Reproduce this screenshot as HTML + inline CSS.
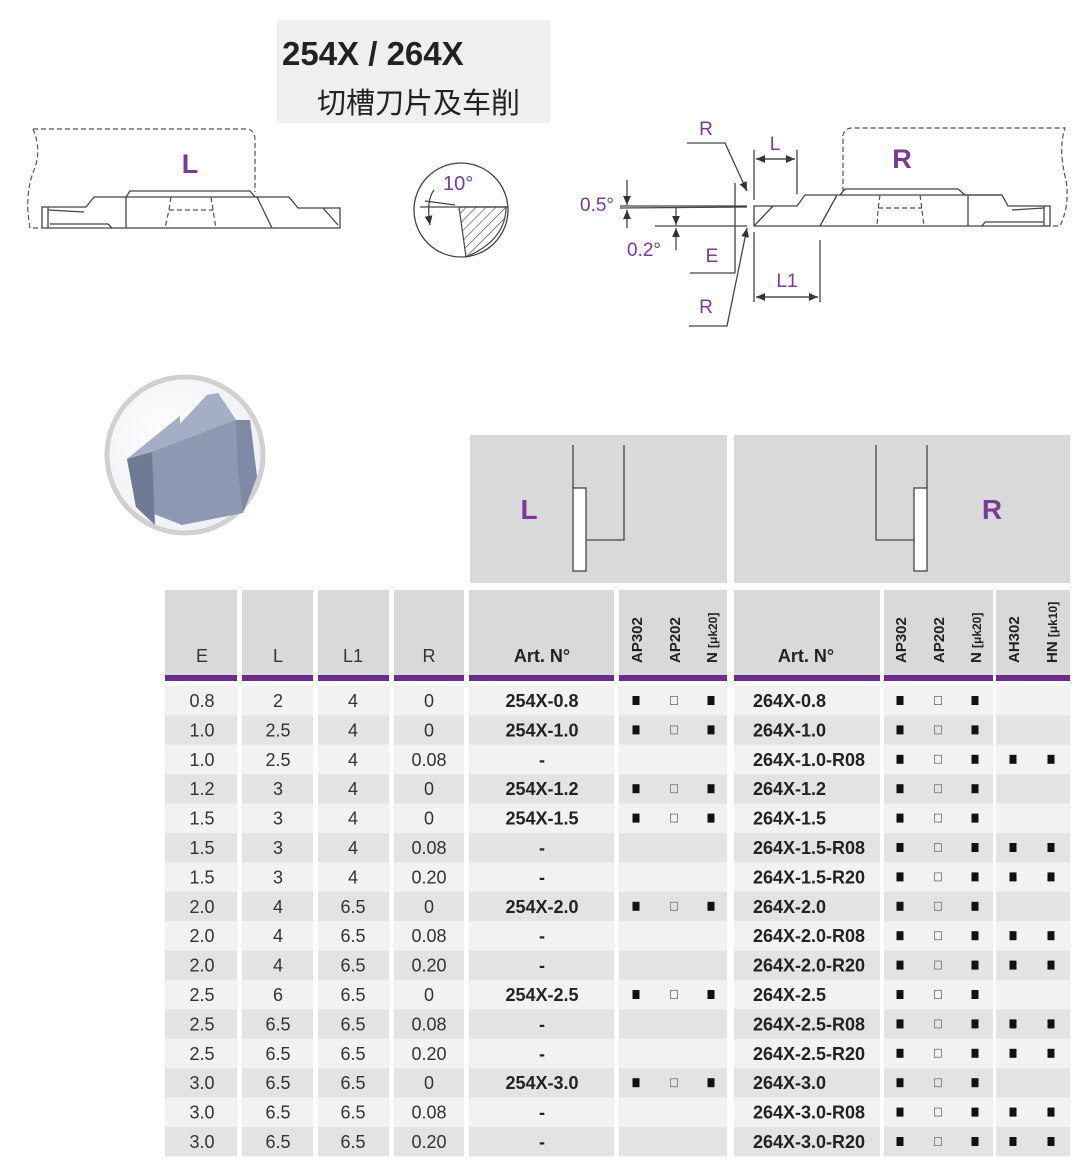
<!DOCTYPE html>
<html><head><meta charset="utf-8"><style>
html,body{margin:0;padding:0;background:#fff;}
svg{display:block;}
.n{font-family:"Liberation Sans Narrow","Liberation Sans",sans-serif;font-size:18px;fill:#333;text-anchor:middle;}
.b{font-family:"Liberation Sans Narrow","Liberation Sans",sans-serif;font-size:18px;font-weight:bold;fill:#222;}
.v{font-family:"Liberation Sans",sans-serif;font-size:15px;font-weight:bold;fill:#222;}
.p{font-family:"Liberation Sans",sans-serif;fill:#7a3a96;}
.ln{stroke:#444;stroke-width:1.3;fill:none;}
.ds{stroke:#555;stroke-width:1.2;fill:none;stroke-dasharray:5 3;}
</style></head><body>
<svg width="1091" height="1175" viewBox="0 0 1091 1175" xmlns="http://www.w3.org/2000/svg">
<defs>
<g id="f"><rect x="-3.5" y="10" width="7" height="9" fill="#111"/></g>
<g id="e"><rect x="-3.5" y="10.5" width="7" height="8" fill="none" stroke="#888" stroke-width="1"/></g>
<marker id="ar" markerWidth="8" markerHeight="8" refX="7" refY="4" orient="auto"><path d="M0,1 L7,4 L0,7z" fill="#333"/></marker>
<pattern id="h" width="7" height="7" patternUnits="userSpaceOnUse" patternTransform="rotate(45)"><line x1="0" y1="0" x2="0" y2="7" stroke="#444" stroke-width="1.2"/></pattern>
<radialGradient id="cg" cx="0.4" cy="0.4" r="0.7"><stop offset="0" stop-color="#fff"/><stop offset="1" stop-color="#eceef2"/></radialGradient>
</defs>

<!-- title -->
<rect x="277" y="20" width="273" height="103" fill="#efefef"/>
<text x="282" y="65" style="font-family:'Liberation Sans',sans-serif;font-size:33px;font-weight:bold;fill:#222">254X / 264X</text>
<text x="317" y="113" style="font-family:'Liberation Sans','Noto Sans CJK SC',sans-serif;font-size:29px;fill:#222">切槽刀片及车削</text>

<!-- L drawing -->
<path class="ds" d="M33,129 L247,129 Q255,130 255,140 L255,192"/>
<path class="ds" d="M33,129 Q42,150 34,170 Q24,195 30,228 L42,228"/>
<text x="190" y="173" class="p" style="font-size:27px;font-weight:bold;text-anchor:middle">L</text>
<path class="ln" d="M42,228 L340,228 L340,208 L298,208 L289,197 L259,197 L255,197 L250,191 L130,191 L126,197 L94,197 L86,207 L42,207 Z"/>
<line class="ln" x1="48" y1="207" x2="48" y2="228"/>
<line class="ln" x1="126" y1="197" x2="126" y2="228"/>
<line class="ln" x1="126" y1="197" x2="259" y2="197"/>
<line class="ln" x1="257" y1="197" x2="272" y2="228"/>
<line class="ln" x1="323" y1="208" x2="338" y2="225"/>
<path class="ln" d="M48,210 L84,212 M50,224 L108,224 L112,228"/>
<path class="ds" d="M171,197 L169,210 L165,228 M211,197 L213,210 L216,228 M169,210 L213,210"/>

<!-- circle detail -->
<circle cx="461" cy="210" r="47" fill="#fff" stroke="#444" stroke-width="1.3"/>
<path d="M459,207 L506,207 Q506,240 466,257 Z" fill="url(#h)" stroke="#444" stroke-width="1.2"/>
<line class="ln" x1="420" y1="207" x2="508" y2="207"/>
<line class="ln" x1="425" y1="201" x2="455" y2="205"/>
<path class="ln" d="M434,190 Q426,200 430,225" marker-end="url(#ar)"/>
<text x="443" y="190" class="p" style="font-size:20px">10°</text>

<!-- R drawing -->
<text x="706" y="135" class="p" style="font-size:19px;text-anchor:middle">R</text>
<text x="706" y="313" class="p" style="font-size:19px;text-anchor:middle">R</text>
<path class="ln" d="M687,143 L725,143 L747,191" marker-end="url(#ar)"/>
<path class="ln" d="M689,326 L727,326 L747,228" marker-end="url(#ar)"/>
<line class="ln" x1="754" y1="150" x2="754" y2="200"/>
<line class="ln" x1="797" y1="150" x2="797" y2="194"/>
<line class="ln" x1="756" y1="159" x2="795" y2="159" marker-end="url(#ar)"/>
<line class="ln" x1="795" y1="159" x2="756" y2="159" marker-end="url(#ar)"/>
<text x="775" y="150" class="p" style="font-size:19px;text-anchor:middle">L</text>
<line class="ln" x1="754" y1="232" x2="754" y2="302"/>
<line class="ln" x1="820" y1="240" x2="820" y2="302"/>
<line class="ln" x1="756" y1="297" x2="818" y2="297" marker-end="url(#ar)"/>
<line class="ln" x1="818" y1="297" x2="756" y2="297" marker-end="url(#ar)"/>
<text x="787" y="287" class="p" style="font-size:19px;text-anchor:middle">L1</text>
<line class="ln" x1="620" y1="206" x2="747" y2="206"/>
<line class="ln" x1="620" y1="208" x2="747" y2="207"/>
<line class="ln" x1="655" y1="226" x2="747" y2="226"/>
<line class="ln" x1="627" y1="180" x2="627" y2="205" marker-end="url(#ar)"/>
<line class="ln" x1="627" y1="228" x2="627" y2="210" marker-end="url(#ar)"/>
<text x="580" y="211" class="p" style="font-size:19px">0.5°</text>
<line class="ln" x1="676" y1="208" x2="676" y2="225" marker-end="url(#ar)"/>
<line class="ln" x1="676" y1="250" x2="676" y2="228" marker-end="url(#ar)"/>
<text x="627" y="256" class="p" style="font-size:19px">0.2°</text>
<line class="ln" x1="735" y1="183" x2="735" y2="273"/>
<line class="ln" x1="690" y1="273" x2="735" y2="273"/>
<text x="712" y="262" class="p" style="font-size:19px;text-anchor:middle">E</text>
<path class="ln" d="M754,206 L797,206 L805,195 L840,195 L845,189 L958,189 L965,195 L1002,195 L1008,206 L1050,206 L1050,226 L754,226 Z"/>
<line class="ln" x1="754" y1="226" x2="773" y2="206"/>
<line class="ln" x1="837" y1="195" x2="820" y2="226"/>
<line class="ln" x1="840" y1="195" x2="1002" y2="195"/>
<line class="ln" x1="968" y1="195" x2="968" y2="226"/>
<line class="ln" x1="1044" y1="206" x2="1044" y2="226"/>
<path class="ln" d="M1044,208 L1012,210 M1044,222 L985,222 L982,226"/>
<path class="ds" d="M843,192 L843,135 Q845,128 852,128 L1065,128 Q1058,150 1066,180 Q1070,205 1060,226 L1040,226"/>
<text x="902" y="168" class="p" style="font-size:27px;font-weight:bold;text-anchor:middle">R</text>
<path class="ds" d="M880,195 L878,210 L877,226 M920,195 L922,210 L924,226 M878,208 L922,208"/>

<!-- insert photo -->
<circle cx="185" cy="455" r="78" fill="url(#cg)" stroke="#d0d0d0" stroke-width="5"/>
<path d="M127,459 L180,416 L180,424 L207,395 L218,393 L236,420 L250,420 L257,477 L243,513 L182,525 L136,507 Z" fill="#8d99b2"/>
<path d="M127,459 L152,452 L155,525 L136,507 Z" fill="#6f7b94"/>
<path d="M127,459 L180,416 L180,424 L207,395 L218,393 L236,420 L152,452 Z" fill="#a4aec4"/>
<path d="M236,420 L250,420 L257,477 L243,513 L238,470 Z" fill="#7e8aa3"/>

<!-- upper header panels -->
<rect x="470" y="435" width="257" height="148" fill="#d9d9d9"/>
<rect x="734" y="435" width="336" height="148" fill="#d9d9d9"/>
<text x="529" y="519" class="p" style="font-size:28px;font-weight:bold;text-anchor:middle">L</text>
<text x="992" y="519" class="p" style="font-size:28px;font-weight:bold;text-anchor:middle">R</text>
<path class="ln" d="M573,445 L573,488 M624,445 L624,540 L587,540"/>
<rect x="573" y="488" width="13" height="83" fill="#fff" stroke="#444" stroke-width="1.3"/>
<path class="ln" d="M927,445 L927,488 M876,445 L876,540 L914,540"/>
<rect x="914" y="488" width="13" height="83" fill="#fff" stroke="#444" stroke-width="1.3"/>

<!-- table header -->
<g fill="#d9d9d9">
<rect x="165" y="590" width="72" height="86"/><rect x="242" y="590" width="71" height="86"/>
<rect x="318" y="590" width="71" height="86"/><rect x="394" y="590" width="70" height="86"/>
<rect x="469" y="590" width="145" height="86"/><rect x="619" y="590" width="108" height="86"/>
<rect x="734" y="590" width="146" height="86"/><rect x="884" y="590" width="109" height="86"/>
<rect x="996" y="590" width="74" height="86"/>
</g>
<g fill="#6b2d8c">
<rect x="165" y="675" width="72" height="6"/><rect x="242" y="675" width="71" height="6"/>
<rect x="318" y="675" width="71" height="6"/><rect x="394" y="675" width="70" height="6"/>
<rect x="469" y="675" width="145" height="6"/><rect x="619" y="675" width="108" height="6"/>
<rect x="734" y="675" width="146" height="6"/><rect x="884" y="675" width="109" height="6"/>
<rect x="996" y="675" width="74" height="6"/>
</g>
<text x="202" y="662" class="n">E</text><text x="278" y="662" class="n">L</text>
<text x="353" y="662" class="n">L1</text><text x="429" y="662" class="n">R</text>
<text x="542" y="662" class="b" style="text-anchor:middle">Art. N°</text>
<text x="806" y="662" class="b" style="text-anchor:middle">Art. N°</text>
<text class="v" transform="translate(642,663) rotate(-90)">AP302</text>
<text class="v" transform="translate(680,663) rotate(-90)">AP202</text>
<text class="v" transform="translate(717,663) rotate(-90)">N <tspan style="font-size:12px">[μk20]</tspan></text>
<text class="v" transform="translate(906,663) rotate(-90)">AP302</text>
<text class="v" transform="translate(944,663) rotate(-90)">AP202</text>
<text class="v" transform="translate(981,663) rotate(-90)">N <tspan style="font-size:12px">[μk20]</tspan></text>
<text class="v" transform="translate(1019,663) rotate(-90)">AH302</text>
<text class="v" transform="translate(1057,663) rotate(-90)">HN <tspan style="font-size:12px">[μk10]</tspan></text>

<!-- rows backgrounds -->
<g>
<rect x="165" y="686" width="905" height="29.4" fill="#f2f2f2"/>
<rect x="165" y="715.4" width="905" height="29.4" fill="#e3e3e3"/>
<rect x="165" y="744.8" width="905" height="29.4" fill="#f2f2f2"/>
<rect x="165" y="774.2" width="905" height="29.4" fill="#e3e3e3"/>
<rect x="165" y="803.6" width="905" height="29.4" fill="#f2f2f2"/>
<rect x="165" y="833" width="905" height="29.4" fill="#e3e3e3"/>
<rect x="165" y="862.4" width="905" height="29.4" fill="#f2f2f2"/>
<rect x="165" y="891.8" width="905" height="29.4" fill="#e3e3e3"/>
<rect x="165" y="921.2" width="905" height="29.4" fill="#f2f2f2"/>
<rect x="165" y="950.6" width="905" height="29.4" fill="#e3e3e3"/>
<rect x="165" y="980" width="905" height="29.4" fill="#f2f2f2"/>
<rect x="165" y="1009.4" width="905" height="29.4" fill="#e3e3e3"/>
<rect x="165" y="1038.8" width="905" height="29.4" fill="#f2f2f2"/>
<rect x="165" y="1068.2" width="905" height="29.4" fill="#e3e3e3"/>
<rect x="165" y="1097.6" width="905" height="29.4" fill="#f2f2f2"/>
<rect x="165" y="1127" width="905" height="29.4" fill="#e3e3e3"/>
</g>
<g fill="#fff">
<rect x="237" y="686" width="5" height="471"/><rect x="313" y="686" width="5" height="471"/>
<rect x="389" y="686" width="5" height="471"/><rect x="464" y="686" width="5" height="471"/>
<rect x="614" y="686" width="5" height="471"/><rect x="727" y="686" width="7" height="471"/>
<rect x="880" y="686" width="4" height="471"/><rect x="993" y="686" width="3" height="471"/>
</g>

<!-- rows -->
<g transform="translate(0,686)"><text x="202" y="21" class="n">0.8</text><text x="278" y="21" class="n">2</text><text x="353" y="21" class="n">4</text><text x="429" y="21" class="n">0</text><text x="542" y="21" class="b" style="text-anchor:middle">254X-0.8</text><use href="#f" x="636"/><use href="#e" x="674"/><use href="#f" x="711"/><text x="753" y="21" class="b">264X-0.8</text><use href="#f" x="900"/><use href="#e" x="938"/><use href="#f" x="975"/></g>
<g transform="translate(0,715.4)"><text x="202" y="21" class="n">1.0</text><text x="278" y="21" class="n">2.5</text><text x="353" y="21" class="n">4</text><text x="429" y="21" class="n">0</text><text x="542" y="21" class="b" style="text-anchor:middle">254X-1.0</text><use href="#f" x="636"/><use href="#e" x="674"/><use href="#f" x="711"/><text x="753" y="21" class="b">264X-1.0</text><use href="#f" x="900"/><use href="#e" x="938"/><use href="#f" x="975"/></g>
<g transform="translate(0,744.8)"><text x="202" y="21" class="n">1.0</text><text x="278" y="21" class="n">2.5</text><text x="353" y="21" class="n">4</text><text x="429" y="21" class="n">0.08</text><text x="542" y="21" class="b" style="text-anchor:middle">-</text><text x="753" y="21" class="b">264X-1.0-R08</text><use href="#f" x="900"/><use href="#e" x="938"/><use href="#f" x="975"/><use href="#f" x="1013"/><use href="#f" x="1051"/></g>
<g transform="translate(0,774.2)"><text x="202" y="21" class="n">1.2</text><text x="278" y="21" class="n">3</text><text x="353" y="21" class="n">4</text><text x="429" y="21" class="n">0</text><text x="542" y="21" class="b" style="text-anchor:middle">254X-1.2</text><use href="#f" x="636"/><use href="#e" x="674"/><use href="#f" x="711"/><text x="753" y="21" class="b">264X-1.2</text><use href="#f" x="900"/><use href="#e" x="938"/><use href="#f" x="975"/></g>
<g transform="translate(0,803.6)"><text x="202" y="21" class="n">1.5</text><text x="278" y="21" class="n">3</text><text x="353" y="21" class="n">4</text><text x="429" y="21" class="n">0</text><text x="542" y="21" class="b" style="text-anchor:middle">254X-1.5</text><use href="#f" x="636"/><use href="#e" x="674"/><use href="#f" x="711"/><text x="753" y="21" class="b">264X-1.5</text><use href="#f" x="900"/><use href="#e" x="938"/><use href="#f" x="975"/></g>
<g transform="translate(0,833)"><text x="202" y="21" class="n">1.5</text><text x="278" y="21" class="n">3</text><text x="353" y="21" class="n">4</text><text x="429" y="21" class="n">0.08</text><text x="542" y="21" class="b" style="text-anchor:middle">-</text><text x="753" y="21" class="b">264X-1.5-R08</text><use href="#f" x="900"/><use href="#e" x="938"/><use href="#f" x="975"/><use href="#f" x="1013"/><use href="#f" x="1051"/></g>
<g transform="translate(0,862.4)"><text x="202" y="21" class="n">1.5</text><text x="278" y="21" class="n">3</text><text x="353" y="21" class="n">4</text><text x="429" y="21" class="n">0.20</text><text x="542" y="21" class="b" style="text-anchor:middle">-</text><text x="753" y="21" class="b">264X-1.5-R20</text><use href="#f" x="900"/><use href="#e" x="938"/><use href="#f" x="975"/><use href="#f" x="1013"/><use href="#f" x="1051"/></g>
<g transform="translate(0,891.8)"><text x="202" y="21" class="n">2.0</text><text x="278" y="21" class="n">4</text><text x="353" y="21" class="n">6.5</text><text x="429" y="21" class="n">0</text><text x="542" y="21" class="b" style="text-anchor:middle">254X-2.0</text><use href="#f" x="636"/><use href="#e" x="674"/><use href="#f" x="711"/><text x="753" y="21" class="b">264X-2.0</text><use href="#f" x="900"/><use href="#e" x="938"/><use href="#f" x="975"/></g>
<g transform="translate(0,921.2)"><text x="202" y="21" class="n">2.0</text><text x="278" y="21" class="n">4</text><text x="353" y="21" class="n">6.5</text><text x="429" y="21" class="n">0.08</text><text x="542" y="21" class="b" style="text-anchor:middle">-</text><text x="753" y="21" class="b">264X-2.0-R08</text><use href="#f" x="900"/><use href="#e" x="938"/><use href="#f" x="975"/><use href="#f" x="1013"/><use href="#f" x="1051"/></g>
<g transform="translate(0,950.6)"><text x="202" y="21" class="n">2.0</text><text x="278" y="21" class="n">4</text><text x="353" y="21" class="n">6.5</text><text x="429" y="21" class="n">0.20</text><text x="542" y="21" class="b" style="text-anchor:middle">-</text><text x="753" y="21" class="b">264X-2.0-R20</text><use href="#f" x="900"/><use href="#e" x="938"/><use href="#f" x="975"/><use href="#f" x="1013"/><use href="#f" x="1051"/></g>
<g transform="translate(0,980)"><text x="202" y="21" class="n">2.5</text><text x="278" y="21" class="n">6</text><text x="353" y="21" class="n">6.5</text><text x="429" y="21" class="n">0</text><text x="542" y="21" class="b" style="text-anchor:middle">254X-2.5</text><use href="#f" x="636"/><use href="#e" x="674"/><use href="#f" x="711"/><text x="753" y="21" class="b">264X-2.5</text><use href="#f" x="900"/><use href="#e" x="938"/><use href="#f" x="975"/></g>
<g transform="translate(0,1009.4)"><text x="202" y="21" class="n">2.5</text><text x="278" y="21" class="n">6.5</text><text x="353" y="21" class="n">6.5</text><text x="429" y="21" class="n">0.08</text><text x="542" y="21" class="b" style="text-anchor:middle">-</text><text x="753" y="21" class="b">264X-2.5-R08</text><use href="#f" x="900"/><use href="#e" x="938"/><use href="#f" x="975"/><use href="#f" x="1013"/><use href="#f" x="1051"/></g>
<g transform="translate(0,1038.8)"><text x="202" y="21" class="n">2.5</text><text x="278" y="21" class="n">6.5</text><text x="353" y="21" class="n">6.5</text><text x="429" y="21" class="n">0.20</text><text x="542" y="21" class="b" style="text-anchor:middle">-</text><text x="753" y="21" class="b">264X-2.5-R20</text><use href="#f" x="900"/><use href="#e" x="938"/><use href="#f" x="975"/><use href="#f" x="1013"/><use href="#f" x="1051"/></g>
<g transform="translate(0,1068.2)"><text x="202" y="21" class="n">3.0</text><text x="278" y="21" class="n">6.5</text><text x="353" y="21" class="n">6.5</text><text x="429" y="21" class="n">0</text><text x="542" y="21" class="b" style="text-anchor:middle">254X-3.0</text><use href="#f" x="636"/><use href="#e" x="674"/><use href="#f" x="711"/><text x="753" y="21" class="b">264X-3.0</text><use href="#f" x="900"/><use href="#e" x="938"/><use href="#f" x="975"/></g>
<g transform="translate(0,1097.6)"><text x="202" y="21" class="n">3.0</text><text x="278" y="21" class="n">6.5</text><text x="353" y="21" class="n">6.5</text><text x="429" y="21" class="n">0.08</text><text x="542" y="21" class="b" style="text-anchor:middle">-</text><text x="753" y="21" class="b">264X-3.0-R08</text><use href="#f" x="900"/><use href="#e" x="938"/><use href="#f" x="975"/><use href="#f" x="1013"/><use href="#f" x="1051"/></g>
<g transform="translate(0,1127)"><text x="202" y="21" class="n">3.0</text><text x="278" y="21" class="n">6.5</text><text x="353" y="21" class="n">6.5</text><text x="429" y="21" class="n">0.20</text><text x="542" y="21" class="b" style="text-anchor:middle">-</text><text x="753" y="21" class="b">264X-3.0-R20</text><use href="#f" x="900"/><use href="#e" x="938"/><use href="#f" x="975"/><use href="#f" x="1013"/><use href="#f" x="1051"/></g>
</svg>
</body></html>
